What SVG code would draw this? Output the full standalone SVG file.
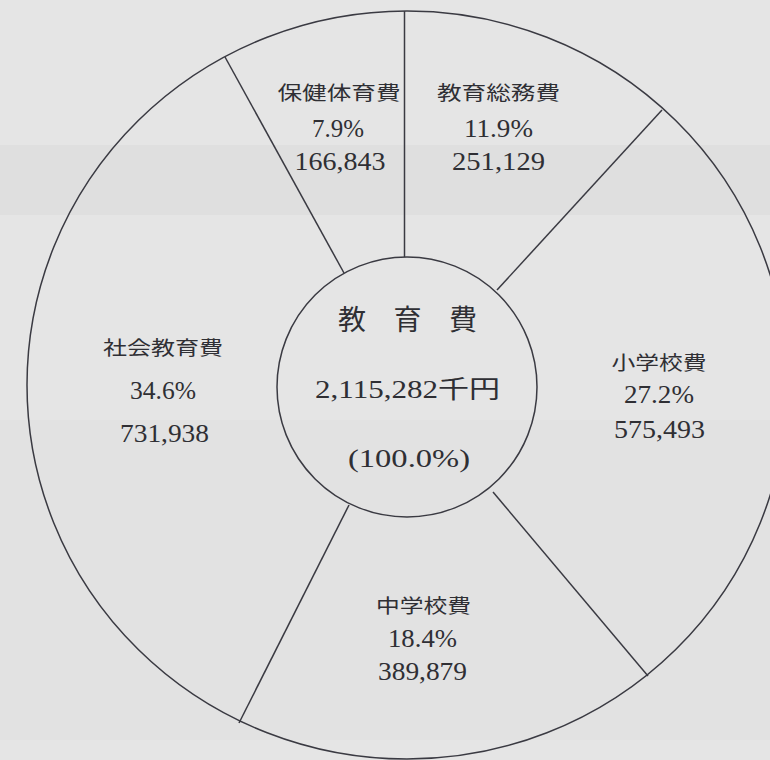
<svg xmlns="http://www.w3.org/2000/svg" width="770" height="760" viewBox="0 0 770 760">
  <style>
    .ln { fill: none; stroke: #3a3a42; stroke-width: 1.5; }
    .jp { font-family: "Liberation Serif", "Noto Sans CJK JP", serif; font-size: 19.5px; fill: #2f2f34; text-anchor: middle; }
    .num { font-family: "Liberation Serif", "Noto Sans CJK JP", serif; font-size: 25px; fill: #2f2f34; text-anchor: middle; }
    .title { font-family: "Liberation Serif", "Noto Sans CJK JP", serif; font-size: 28px; fill: #2f2f34; text-anchor: middle; }
  </style>
  <rect x="0" y="0" width="770" height="760" fill="#e5e5e5"/>
  <rect x="0" y="145" width="770" height="70" fill="#d8d8d8" opacity="0.45"/>
  <rect x="0" y="420" width="770" height="320" fill="#dcdcdc" opacity="0.3"/>

  <g id="outer-ring">
    <ellipse class="ln" cx="407" cy="385" rx="380" ry="374"/>
  </g>
  <g id="connectors">
    <line class="ln" x1="404.5" y1="11" x2="404.5" y2="257"/>
    <line class="ln" x1="225" y1="57" x2="344" y2="273"/>
    <line class="ln" x1="662" y1="110" x2="497" y2="290"/>
    <line class="ln" x1="493" y1="492" x2="648" y2="676"/>
    <line class="ln" x1="349" y1="505" x2="239" y2="723"/>
  </g>

  <g id="center">
    <circle class="ln" cx="407" cy="387" r="130"/>
    <text class="title" x="407.5" y="330" textLength="139" lengthAdjust="spacing">教 育 費</text>
    <text class="num" x="407.5" y="398" font-size="24" textLength="185" lengthAdjust="spacingAndGlyphs">2,115,282千円</text>
    <text class="num" x="409" y="467" font-size="24" textLength="122" lengthAdjust="spacingAndGlyphs">(100.0%)</text>
  </g>

  <g id="hoken">
    <text class="jp" x="339" y="100" textLength="123" lengthAdjust="spacingAndGlyphs">保健体育費</text>
    <text class="num" x="338" y="136.5" textLength="52" lengthAdjust="spacingAndGlyphs">7.9%</text>
    <text class="num" x="340" y="170" textLength="91" lengthAdjust="spacingAndGlyphs">166,843</text>
  </g>

  <g id="somu">
    <text class="jp" x="498.5" y="100" textLength="123" lengthAdjust="spacingAndGlyphs">教育総務費</text>
    <text class="num" x="498.5" y="136.5" textLength="69" lengthAdjust="spacingAndGlyphs">11.9%</text>
    <text class="num" x="498.5" y="170" textLength="93" lengthAdjust="spacingAndGlyphs">251,129</text>
  </g>

  <g id="shakai">
    <text class="jp" x="163" y="355" textLength="120" lengthAdjust="spacingAndGlyphs">社会教育費</text>
    <text class="num" x="163" y="399" textLength="66" lengthAdjust="spacingAndGlyphs">34.6%</text>
    <text class="num" x="164.5" y="441.5" textLength="89" lengthAdjust="spacingAndGlyphs">731,938</text>
  </g>

  <g id="shogakko">
    <text class="jp" x="659" y="370" textLength="95" lengthAdjust="spacingAndGlyphs">小学校費</text>
    <text class="num" x="659" y="403" textLength="70" lengthAdjust="spacingAndGlyphs">27.2%</text>
    <text class="num" x="659.5" y="438" textLength="91" lengthAdjust="spacingAndGlyphs">575,493</text>
  </g>

  <g id="chugakko">
    <text class="jp" x="423.5" y="613" textLength="95" lengthAdjust="spacingAndGlyphs">中学校費</text>
    <text class="num" x="422.5" y="647" textLength="69" lengthAdjust="spacingAndGlyphs">18.4%</text>
    <text class="num" x="422.5" y="680" textLength="89" lengthAdjust="spacingAndGlyphs">389,879</text>
  </g>
</svg>
